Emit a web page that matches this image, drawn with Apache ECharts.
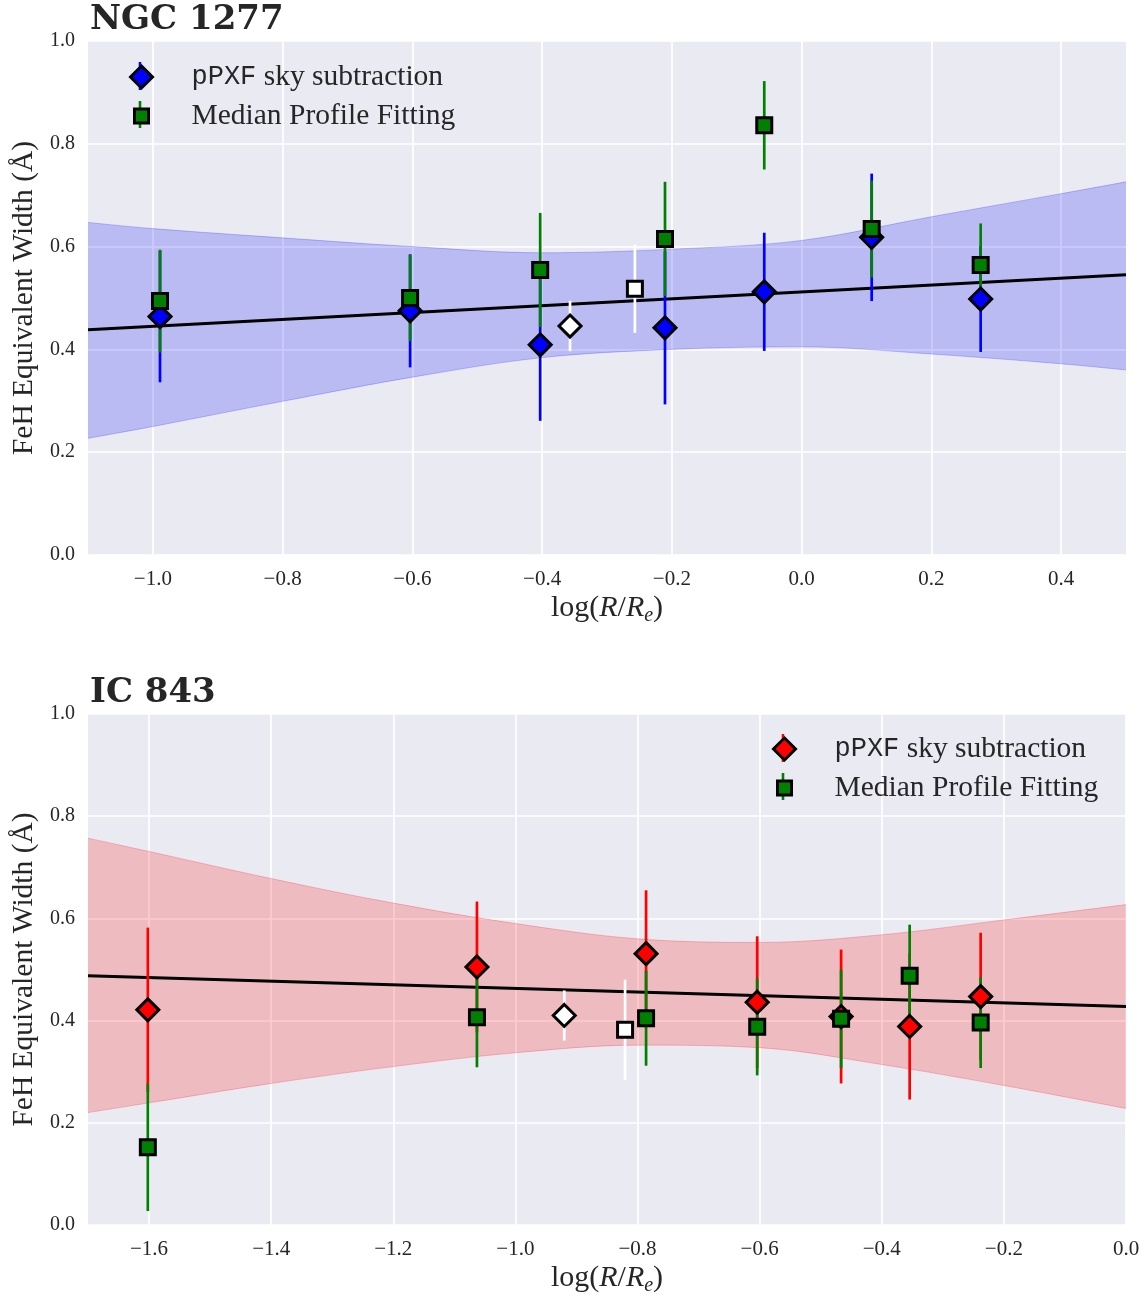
<!DOCTYPE html>
<html>
<head>
<meta charset="utf-8">
<script src="https://cdn.jsdelivr.net/npm/echarts@6/dist/echarts.min.js"></script>
<style>
html,body{margin:0;padding:0;background:#fff;}
#chart{width:1147px;height:1297px;}
</style>
</head>
<body>
<div id="chart"></div>
<script>
// ---------------- DATA ----------------
// NGC 1277 (top panel)
const xTop = [-0.989, -0.6035, -0.403, -0.2106, -0.0576, 0.108, 0.276];
const ppxfTop = [0.464, 0.475, 0.409, 0.442, 0.512, 0.618, 0.498];
const ppxfTopErr = [0.128, 0.110, 0.148, 0.149, 0.115, 0.124, 0.103];
const mpfTop = [0.494, 0.500, 0.5545, 0.615, 0.836, 0.634, 0.564];
const mpfTopErr = [0.100, 0.084, 0.111, 0.111, 0.086, 0.094, 0.081];
const openDiamondTop = [[-0.357, 0.4455, 0.049]];
const openSquareTop = [[-0.257, 0.518, 0.086]];
const fitXTop = [-1.1, 0.5];
const fitYTop = [0.438, 0.545];
const bandXTop = [-1.1, -1.0, -0.8, -0.6, -0.4, -0.2, 0.0, 0.2, 0.4, 0.5];
const bandUpTop = [0.647, 0.635, 0.617, 0.600, 0.588, 0.595, 0.612, 0.658, 0.703, 0.726];
const bandLoTop = [0.227, 0.250, 0.299, 0.346, 0.384, 0.400, 0.405, 0.391, 0.372, 0.360];
const xTicksTop = [-1.0, -0.8, -0.6, -0.4, -0.2, 0.0, 0.2, 0.4];

// IC 843 (bottom panel)
const xBot = [-1.602, -1.063, -0.786, -0.604, -0.4666, -0.3543, -0.238];
const ppxfBot = [0.421, 0.505, 0.531, 0.436, 0.408, 0.3885, 0.447];
const ppxfBotErr = [0.161, 0.128, 0.124, 0.129, 0.131, 0.143, 0.125];
const mpfBot = [0.152, 0.4066, 0.4047, 0.3878, 0.4034, 0.4877, 0.3962];
const mpfBotErr = [0.1246, 0.098, 0.093, 0.095, 0.096, 0.100, 0.089];
const openDiamondBot = [[-0.920, 0.410, 0.049]];
const openSquareBot = [[-0.8204, 0.382, 0.098]];
const fitXBot = [-1.7, 0.0];
const fitYBot = [0.488, 0.4275];
const bandXBot = [-1.7, -1.6, -1.4, -1.2, -1.0, -0.8, -0.6, -0.4, -0.2, 0.0];
const bandUpBot = [0.757, 0.731, 0.678, 0.630, 0.590, 0.560, 0.553, 0.568, 0.597, 0.627];
const bandLoBot = [0.220, 0.239, 0.277, 0.310, 0.337, 0.352, 0.347, 0.314, 0.273, 0.228];
const xTicksBot = [-1.6, -1.4, -1.2, -1.0, -0.8, -0.6, -0.4, -0.2, 0.0];

const titles = ['NGC 1277', 'IC 843'];
const legendNames = ['pPXF sky subtraction', 'Median Profile Fitting'];

// ---------------- HELPERS ----------------
const SERIF = 'Liberation Serif';
const TXT = '#262626';
function zip3(x, y, e) { return x.map((v, i) => [v, y[i], e[i]]); }
function zip2(x, y) { return x.map((v, i) => [v, y[i]]); }
function fmt(v) { return (v < 0 ? '\u2212' : '') + Math.abs(v).toFixed(1); }

function errBars(name, data, color, gi, z) {
  return {
    type: 'custom', name: name, xAxisIndex: gi, yAxisIndex: gi, z: z, silent: true,
    encode: { x: 0, y: 1 },
    data: data,
    renderItem: function (params, api) {
      const x = api.value(0), y = api.value(1), e = api.value(2);
      const p1 = api.coord([x, y - e]);
      const p2 = api.coord([x, y + e]);
      return { type: 'line', shape: { x1: p1[0], y1: p1[1], x2: p2[0], y2: p2[1] },
               style: { stroke: color, lineWidth: 2.7 } };
    }
  };
}
function markers(name, data, color, symbol, size, gi, z) {
  return {
    type: 'scatter', name: name, xAxisIndex: gi, yAxisIndex: gi, z: z, silent: true,
    symbol: symbol, symbolSize: size,
    data: data.map(d => [d[0], d[1]]),
    itemStyle: { color: color, borderColor: '#000', borderWidth: 3, opacity: 1 },
    emphasis: { disabled: true }
  };
}
// Band: stacked lines; value column first so that the y dimension is the stacked one.
function band(x, lo, up, rgb, gi, key) {
  const edge = 'rgba(' + rgb + ',0.22)';
  return [
    { type: 'line', xAxisIndex: gi, yAxisIndex: gi, stack: key, z: 1, silent: true,
      encode: { x: 1, y: 0 },
      data: x.map((v, i) => [lo[i], v]), symbol: 'none', smooth: 0.35,
      lineStyle: { color: edge, width: 1 } },
    { type: 'line', xAxisIndex: gi, yAxisIndex: gi, stack: key, z: 1, silent: true,
      encode: { x: 1, y: 0 },
      data: x.map((v, i) => [up[i] - lo[i], v]), symbol: 'none', smooth: 0.35,
      lineStyle: { color: edge, width: 1 },
      areaStyle: { color: 'rgba(' + rgb + ',0.2)', opacity: 1 } }
  ];
}
function fitLine(x, y, gi) {
  return { type: 'line', xAxisIndex: gi, yAxisIndex: gi, z: 2, silent: true,
           data: zip2(x, y), symbol: 'none', lineStyle: { color: '#000', width: 3 } };
}

const xName = '{n|log(}{i|R}{n|/}{i|R}{s|e}{n|)}';
const xNameRich = {
  n: { fontFamily: SERIF, fontSize: 30, color: TXT },
  i: { fontFamily: SERIF, fontStyle: 'italic', fontSize: 30, color: TXT },
  s: { fontFamily: SERIF, fontStyle: 'italic', fontSize: 20, color: TXT, padding: [15, 0, 0, 0] }
};

function xAxisDef(gi, min, max, ticks) {
  return {
    type: 'value', gridIndex: gi, min: min, max: max,
    axisLine: { show: false },
    axisTick: { show: false, customValues: ticks },
    axisLabel: { customValues: ticks, formatter: fmt, fontFamily: SERIF, fontSize: 21, color: TXT, margin: 14 },
    splitLine: { show: true, lineStyle: { color: '#ffffff', width: 1.7 } },
    name: xName, nameLocation: 'middle', nameGap: 36,
    nameTextStyle: { rich: xNameRich }
  };
}
function yAxisDef(gi) {
  return {
    type: 'value', gridIndex: gi, min: 0, max: 1, interval: 0.2,
    axisLine: { show: false }, axisTick: { show: false },
    axisLabel: { formatter: v => v.toFixed(1), fontFamily: SERIF, fontSize: 20, color: TXT, margin: 13 },
    splitLine: { show: true, lineStyle: { color: '#ffffff', width: 1.7 } },
    name: 'FeH Equivalent Width (\u00C5)', nameLocation: 'middle', nameRotate: 90, nameGap: 47,
    nameTextStyle: { fontFamily: SERIF, fontSize: 29.5, color: TXT }
  };
}

function legendDef(left, top, mainColor) {
  return {
    orient: 'vertical', left: left, top: top, padding: 0, z: 10,
    itemWidth: 22, itemHeight: 22, itemGap: 9, selectedMode: false,
    data: [
      { name: legendNames[0], icon: 'diamond',
        itemStyle: { color: mainColor, borderColor: '#000', borderWidth: 3 } },
      { name: legendNames[1], icon: 'path://M0,0M4,4L18,4L18,18L4,18ZM22,22',
        itemStyle: { color: '#008000', borderColor: '#000', borderWidth: 3 } }
    ],
    formatter: function (name) {
      return name === legendNames[0] ? '{tt|pPXF} sky subtraction' : name;
    },
    textStyle: {
      fontFamily: SERIF, fontSize: 29.5, lineHeight: 29, color: TXT, padding: [0, 0, 0, 34],
      rich: { tt: { fontFamily: 'Liberation Mono', fontSize: 27, lineHeight: 29, color: TXT } }
    }
  };
}

// ---------------- OPTION ----------------
const option = {
  animation: false,
  backgroundColor: '#ffffff',
  title: [
    { text: titles[0], left: 85, top: -2,
      textStyle: { fontFamily: 'DejaVu Serif', fontWeight: 'bold', fontSize: 34, color: TXT } },
    { text: titles[1], left: 85, top: 671,
      textStyle: { fontFamily: 'DejaVu Serif', fontWeight: 'bold', fontSize: 34, color: TXT } }
  ],
  grid: [
    { left: 88, top: 41, width: 1038, height: 514, show: true, backgroundColor: '#EAEAF2', borderWidth: 0 },
    { left: 88, top: 714, width: 1038, height: 514, show: true, backgroundColor: '#EAEAF2', borderWidth: 0 }
  ],
  xAxis: [xAxisDef(0, -1.1, 0.5, xTicksTop), xAxisDef(1, -1.7, 0.0, xTicksBot)],
  yAxis: [yAxisDef(0), yAxisDef(1)],
  legend: [legendDef(129, 62, '#0000ff'), legendDef(772, 734, '#ff0000')],
  graphic: [
    { type: 'line', z: 3, shape: { x1: 140, y1: 62, x2: 140, y2: 90 }, style: { stroke: '#0000ff', lineWidth: 2.6 } },
    { type: 'line', z: 3, shape: { x1: 140, y1: 101, x2: 140, y2: 128 }, style: { stroke: '#008000', lineWidth: 2.6 } },
    { type: 'line', z: 3, shape: { x1: 783, y1: 734, x2: 783, y2: 762 }, style: { stroke: '#ff0000', lineWidth: 2.6 } },
    { type: 'line', z: 3, shape: { x1: 783, y1: 773, x2: 783, y2: 800 }, style: { stroke: '#008000', lineWidth: 2.6 } }
  ],
  series: [].concat(
    band(bandXTop, bandLoTop, bandUpTop, '0,0,255', 0, 'bandTop'),
    [fitLine(fitXTop, fitYTop, 0),
     errBars('bars-ppxf-top', zip3(xTop, ppxfTop, ppxfTopErr), '#0000ff', 0, 3),
     errBars('bars-mpf-top', zip3(xTop, mpfTop, mpfTopErr), '#008000', 0, 3),
     errBars('bars-open-top', openDiamondTop.concat(openSquareTop), '#ffffff', 0, 3),
     markers(legendNames[0], zip3(xTop, ppxfTop, ppxfTopErr), '#0000ff', 'diamond', 22, 0, 4),
     markers(legendNames[1], zip3(xTop, mpfTop, mpfTopErr), '#008000', 'rect', 15, 0, 5),
     markers('open-diamond-top', openDiamondTop, '#ffffff', 'diamond', 22, 0, 4),
     markers('open-square-top', openSquareTop, '#ffffff', 'rect', 15, 0, 5)],
    band(bandXBot, bandLoBot, bandUpBot, '255,0,0', 1, 'bandBot'),
    [fitLine(fitXBot, fitYBot, 1),
     errBars('bars-ppxf-bot', zip3(xBot, ppxfBot, ppxfBotErr), '#ff0000', 1, 3),
     errBars('bars-mpf-bot', zip3(xBot, mpfBot, mpfBotErr), '#008000', 1, 3),
     errBars('bars-open-bot', openDiamondBot.concat(openSquareBot), '#ffffff', 1, 3),
     markers(legendNames[0], zip3(xBot, ppxfBot, ppxfBotErr), '#ff0000', 'diamond', 22, 1, 4),
     markers(legendNames[1], zip3(xBot, mpfBot, mpfBotErr), '#008000', 'rect', 15, 1, 5),
     markers('open-diamond-bot', openDiamondBot, '#ffffff', 'diamond', 22, 1, 4),
     markers('open-square-bot', openSquareBot, '#ffffff', 'rect', 15, 1, 5)]
  )
};

const chart = echarts.init(document.getElementById('chart'), null, { renderer: 'canvas' });
chart.setOption(option);
</script>
</body>
</html>
